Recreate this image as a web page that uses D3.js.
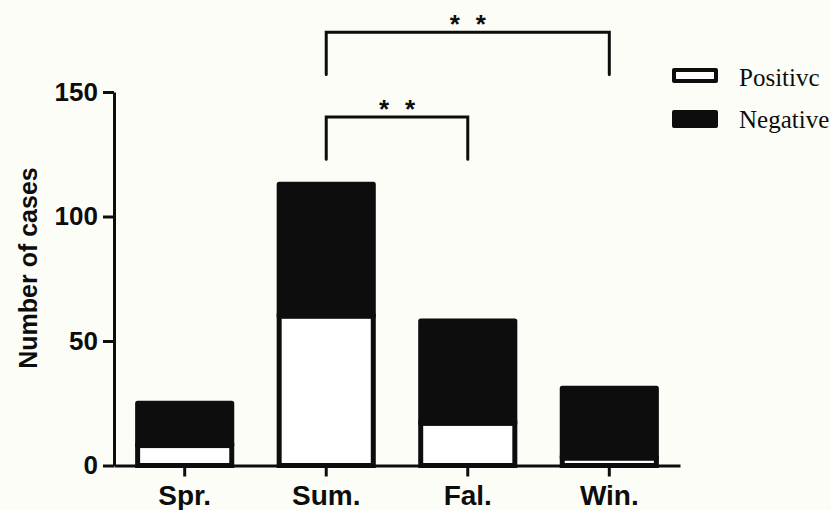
<!DOCTYPE html>
<html>
<head>
<meta charset="utf-8">
<script src="https://cdn.jsdelivr.net/npm/d3@7"></script>
<style>
  body { margin: 0; background: #fdfdf8; }
  svg { display: block; }
</style>
</head>
<body>
<div class="container"></div>
<script>
// data
const seasons = ['Spr.', 'Sum.', 'Fal.', 'Win.'];
const positive = [8, 60, 17, 3];
const negative = [17, 53, 41, 28];
const yTicks = [0, 50, 100, 150];
const legendNames = ['Positivc', 'Negative'];
// significance brackets: from, to, bar level, leg bottom (data units)
const brackets = [
    {from: 'Sum.', to: 'Win.', top: 174, leg: 157, label: '*'},
    {from: 'Sum.', to: 'Fal.', top: 140, leg: 123, label: '*'}
];

const width = 831, height = 510;

const svg = d3.select('.container')
    .append('svg')
    .attr('width', width)
    .attr('height', height);

svg.append('rect').attr('width', width).attr('height', height).attr('fill', '#fdfdf8');

const x = d3.scaleBand()
    .domain(seasons)
    .range([114, 680])
    .paddingInner(0.335)
    .paddingOuter(0.167);

const y = d3.scaleLinear()
    .domain([0, 150])
    .range([465.5, 92]);

const ink = '#0d0d0d';

// bars
const bars = svg.append('g').attr('class', 'bars');
seasons.forEach((s, i) => {
    bars.append('rect')
        .attr('x', x(s))
        .attr('y', y(positive[i]))
        .attr('width', x.bandwidth())
        .attr('height', y(0) - y(positive[i]))
        .attr('fill', '#ffffff')
        .attr('stroke', ink)
        .attr('stroke-width', 5);
    bars.append('rect')
        .attr('x', x(s))
        .attr('y', y(positive[i] + negative[i]))
        .attr('width', x.bandwidth())
        .attr('height', y(positive[i]) - y(positive[i] + negative[i]))
        .attr('fill', ink)
        .attr('stroke', ink)
        .attr('stroke-width', 5)
        .attr('stroke-linejoin', 'round');
});

// axes
const yAxis = svg.append('g')
    .attr('transform', 'translate(114,0)')
    .call(d3.axisLeft(y).tickValues(yTicks).tickSize(11).tickSizeOuter(0).tickPadding(5));

const xAxis = svg.append('g')
    .attr('transform', `translate(0,${y(0)})`)
    .call(d3.axisBottom(x).tickSize(11).tickSizeOuter(0).tickPadding(9));

[yAxis, xAxis].forEach(a => {
    a.select('.domain').attr('stroke', ink).attr('stroke-width', 3);
    a.selectAll('.tick line').attr('stroke', ink).attr('stroke-width', 3);
    a.selectAll('.tick text')
        .attr('fill', ink)
        .style('font-family', 'Liberation Sans, Arial, sans-serif')
        .style('font-weight', 'bold')
        .style('font-size', '28px');
});
yAxis.selectAll('.tick text').style('font-size', '26px');

svg.append('text')
    .attr('transform', 'translate(37,268) rotate(-90)')
    .attr('text-anchor', 'middle')
    .attr('fill', ink)
    .style('font-family', 'Liberation Sans, Arial, sans-serif')
    .style('font-weight', 'bold')
    .style('font-size', '25px')
    .text('Number of cases');

// significance brackets
const sig = svg.append('g').attr('class', 'sig');
brackets.forEach(b => {
    const x1 = x(b.from) + x.bandwidth() / 2;
    const x2 = x(b.to) + x.bandwidth() / 2;
    sig.append('path')
        .attr('d', `M${x1},${y(b.leg)}V${y(b.top)}H${x2}V${y(b.leg)}`)
        .attr('fill', 'none')
        .attr('stroke', ink)
        .attr('stroke-width', 3)
        .attr('stroke-linecap', 'round');
    const mid = (x1 + x2) / 2;
    [-13, 13].forEach(off => {
        sig.append('text')
            .attr('x', mid + off)
            .attr('y', y(b.top) + 1)
            .attr('text-anchor', 'middle')
            .attr('fill', ink)
            .style('font-family', 'Liberation Sans, Arial, sans-serif')
            .style('font-weight', 'bold')
            .style('font-size', '26px')
            .text(b.label);
    });
});

// legend
const legend = svg.append('g').attr('class', 'legend');
legendNames.forEach((name, i) => {
    const ly = 70 + i * 42;
    legend.append('rect')
        .attr('x', 674)
        .attr('y', ly)
        .attr('width', 42)
        .attr('height', i === 0 ? 11 : 14)
        .attr('fill', i === 0 ? '#ffffff' : ink)
        .attr('stroke', ink)
        .attr('stroke-width', 4)
        .attr('stroke-linejoin', 'round');
    legend.append('text')
        .attr('x', 739)
        .attr('y', ly + 16)
        .attr('fill', ink)
        .style('font-family', 'Liberation Serif, Times New Roman, serif')
        .style('font-size', '25px')
        .text(name);
});
</script>
</body>
</html>
